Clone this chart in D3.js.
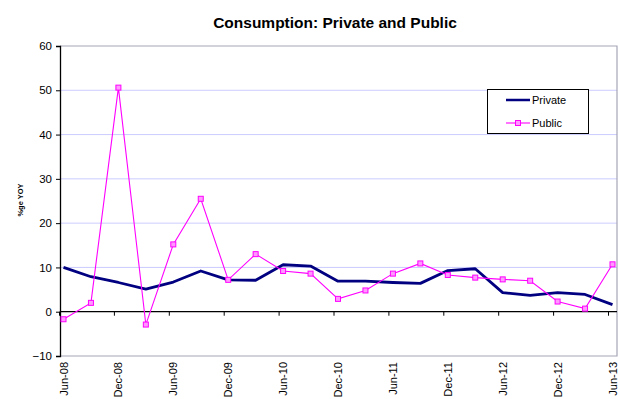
<!DOCTYPE html>
<html><head><meta charset="utf-8">
<script src="https://cdn.jsdelivr.net/npm/d3@7/dist/d3.min.js"></script>
<style>body{margin:0;background:#fff;}svg{display:block;font-family:"Liberation Sans",Arial,sans-serif;}</style>
</head><body>
<svg id="c" width="618" height="399"></svg>
<script>
const categories = ["Jun-08","Sep-08","Dec-08","Mar-09","Jun-09","Sep-09","Dec-09","Mar-10","Jun-10","Sep-10","Dec-10","Mar-11","Jun-11","Sep-11","Dec-11","Mar-12","Jun-12","Sep-12","Dec-12","Mar-13","Jun-13"];
const privateVals = [10.0,7.9,6.6,5.1,6.7,9.2,7.2,7.1,10.6,10.3,6.9,6.9,6.6,6.4,9.3,9.7,4.3,3.7,4.3,3.9,1.6];
const publicVals = [-1.7,2.0,50.6,-2.9,15.2,25.5,7.2,13.0,9.2,8.6,2.9,4.8,8.6,10.9,8.3,7.7,7.3,7.0,2.3,0.7,10.7];
const yTicks = [-10,0,10,20,30,40,50,60];
const xLabels = categories.filter((d,i)=>i%2===0);

const svg = d3.select("#c");
const L=60, R=617, T=46, B=356;
const x = d3.scalePoint().domain(categories).range([63.5,612.5]);
const y = d3.scaleLinear().domain([-10,60]).range([B,T]);

// title
svg.append("text").attr("x",335).attr("y",28).attr("text-anchor","middle")
  .attr("font-size",15.5).attr("font-weight","bold").text("Consumption: Private and Public");

// gridlines
svg.append("g").selectAll("line").data(yTicks.filter(v=>v>-10&&v<60&&v!==0)).join("line")
  .attr("x1",L).attr("x2",R).attr("y1",d=>y(d)).attr("y2",d=>y(d))
  .attr("stroke","#ccccff").attr("stroke-width",1);

// plot border (top, right, bottom)
svg.append("path").attr("d",`M${L},${T}H${R}V${B}H${L}`).attr("fill","none")
  .attr("stroke","#a6a6b8").attr("stroke-width",1.2);

// y axis
const yAxis = d3.axisLeft(y).tickValues(yTicks).tickSize(4).tickPadding(4);
const gy = svg.append("g").attr("transform",`translate(${L},0)`).call(yAxis);
gy.select(".domain").attr("stroke","#000").attr("stroke-width",1.3);
gy.selectAll(".tick line").attr("stroke","#000");
gy.selectAll("text").attr("font-size",11.5).attr("fill","#000").attr("font-family","Liberation Sans, Arial, sans-serif");

// zero line with ticks
svg.append("line").attr("x1",L).attr("x2",R).attr("y1",y(0)).attr("y2",y(0))
  .attr("stroke","#000").attr("stroke-width",1.3);
svg.append("g").selectAll("line").data(xLabels).join("line")
  .attr("x1",d=>x(d)-4).attr("x2",d=>x(d)-4).attr("y1",y(0)).attr("y2",y(0)+4)
  .attr("stroke","#000");

// x labels
svg.append("g").selectAll("text").data(xLabels).join("text")
  .attr("transform",d=>`translate(${x(d)+4},${B+6}) rotate(-90)`)
  .attr("text-anchor","end").attr("font-size",11).text(d=>d);

// y axis title
svg.append("text").attr("transform","translate(23,200) rotate(-90)")
  .attr("text-anchor","middle").attr("font-size",7.5).attr("font-weight","bold").text("%ge YOY");

// lines
const line = d3.line().x((d,i)=>x(categories[i])).y(d=>y(d));
svg.append("path").datum(privateVals).attr("d",line).attr("fill","none")
  .attr("stroke","#000080").attr("stroke-width",2.8).attr("stroke-linejoin","round");
svg.append("path").datum(publicVals).attr("d",line).attr("fill","none")
  .attr("stroke","#ff00ff").attr("stroke-width",1.1);
svg.append("g").selectAll("rect").data(publicVals).join("rect")
  .attr("x",(d,i)=>x(categories[i])-2.5).attr("y",d=>y(d)-2.5)
  .attr("width",5).attr("height",5).attr("fill","#ff99ff").attr("stroke","#ff00ff").attr("stroke-width",1);

// legend
const lg = svg.append("g");
lg.append("rect").attr("x",487.5).attr("y",89.5).attr("width",101).attr("height",44)
  .attr("fill","#fff").attr("stroke","#000").attr("stroke-width",1);
lg.append("line").attr("x1",506).attr("x2",530).attr("y1",100).attr("y2",100)
  .attr("stroke","#000080").attr("stroke-width",2.5);
lg.append("text").attr("x",532).attr("y",104).attr("font-size",11).text("Private");
lg.append("line").attr("x1",506).attr("x2",530).attr("y1",123).attr("y2",123)
  .attr("stroke","#ff00ff").attr("stroke-width",1.1);
lg.append("rect").attr("x",515.5).attr("y",120.5).attr("width",5).attr("height",5)
  .attr("fill","#ff99ff").attr("stroke","#ff00ff");
lg.append("text").attr("x",532).attr("y",127).attr("font-size",11).text("Public");
</script>
</body></html>
